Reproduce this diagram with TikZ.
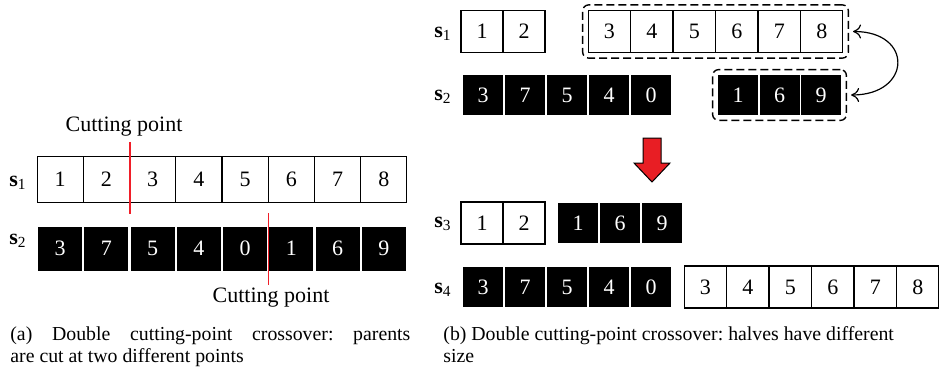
\documentclass[tikz,border=0pt]{standalone}
\usepackage{fontspec}
\setmainfont{Liberation Serif}[Scale=1.1]
\usepackage{tikz}
\usetikzlibrary{fit,arrows.meta}

\definecolor{cutred}{RGB}{240,30,40}
\definecolor{arrowred}{RGB}{232,30,36}

\begin{document}
\begin{tikzpicture}[x=0.5pt, y=-0.5pt,
    wcell/.style={draw, fill=white, line width=0.6pt, inner sep=0pt, minimum size=#1},
    wcell/.default=21pt,
    bcell/.style={fill=black, text=white, inner sep=0pt, minimum size=#1},
    bcell/.default=20pt,
    cutline/.style={cutred, line width=0.9pt},
    dashbox/.style={draw, dash pattern=on 4pt off 2pt, line width=0.7pt, rounded corners=3pt, inner sep=2.5pt},
    swaparrow/.style={{To[length=4pt,width=7pt]}-{To[length=4pt,width=7pt]}, line width=0.6pt, shorten <=2pt, shorten >=2pt},
    lbl/.style={inner sep=0pt},
    captext/.style={inner sep=0pt, anchor=north west, font=\small\frenchspacing}]
    \useasboundingbox (0,0) rectangle (940,374);

    % (a) parents cut at two different points
    \node[lbl] (sa1) at (18,183) {\textbf{s}\textsubscript{1}};
    \node[lbl] (sa2) at (18,241) {\textbf{s}\textsubscript{2}};
    \foreach \v [count=\i] in {1,2,3,4,5,6,7,8}
        \node[wcell=23pt] (p1c\i) at ({37+46.25*(\i-0.5)},179.5) {\v};
    \foreach \v [count=\i] in {3,7,5,4,0,1,6,9}
        \node[bcell=22pt] (p2c\i) at ({37+46.25*(\i-0.5)},248.5) {\v};
    \node[lbl, anchor=base] (cp1) at (124,131) {Cutting point};
    \node[lbl, anchor=base] (cp2) at (271,302) {Cutting point};
    \draw[cutline] ([yshift=7pt]p1c2.north east) -- ([yshift=-5.5pt]p1c2.south east);
    \draw[cutline] ([xshift=0.5pt,yshift=6.5pt]p2c5.north east) -- ([xshift=0.5pt,yshift=-7pt]p2c5.south east);

    % (b) halves of different size
    \node[lbl] (sb1) at (443,34) {\textbf{s}\textsubscript{1}};
    \node[lbl] (sb2) at (443,97) {\textbf{s}\textsubscript{2}};
    \node[lbl] (sb3) at (443,224) {\textbf{s}\textsubscript{3}};
    \node[lbl] (sb4) at (443,290) {\textbf{s}\textsubscript{4}};
    \foreach \v [count=\i] in {1,2}
        \node[wcell] (u1c\i) at ({461+42*(\i-0.5)},31.5) {\v};
    \foreach \v [count=\i] in {3,...,8}
        \node[wcell] (v1c\i) at ({588+42.5*(\i-0.5)},31.5) {\v};
    \foreach \v [count=\i] in {3,7,5,4,0}
        \node[bcell] (u2c\i) at ({483+42*(\i-1)},95) {\v};
    \foreach \v [count=\i] in {1,6,9}
        \node[bcell] (v2c\i) at ({738+41.5*(\i-1)},95) {\v};
    \node[dashbox, fit=(v1c1)(v1c6)] (box1) {};
    \node[dashbox, fit=(v2c1)(v2c3)] (box2) {};
    \draw[swaparrow] (box1.east) to[out=0, in=0, looseness=2.6] (box2.east);

    \draw[fill=arrowred, line width=0.5pt] (643,138) -- (661,138) -- (661,163) -- (670,163)
        -- (652,182) -- (634,163) -- (643,163) -- cycle;

    \foreach \v [count=\i] in {1,2}
        \node[wcell] (u3c\i) at ({461+42*(\i-0.5)},223) {\v};
    \foreach \v [count=\i] in {1,6,9}
        \node[bcell] (v3c\i) at ({578+42*(\i-1)},223) {\v};
    \foreach \v [count=\i] in {3,7,5,4,0}
        \node[bcell] (u4c\i) at ({483+42*(\i-1)},287) {\v};
    \foreach \v [count=\i] in {3,...,8}
        \node[wcell] (v4c\i) at ({684+42.5*(\i-0.5)},287) {\v};

    % captions
    \node[captext, text width=200pt, align=justify] (capa) at (10,326)
        {(a) Double cutting-point crossover: parents\linebreak are cut at two different points};
    \node[captext, align=left] (capb) at (443,326)
        {(b) Double cutting-point crossover: halves have different\\ size};
\end{tikzpicture}
\end{document}
